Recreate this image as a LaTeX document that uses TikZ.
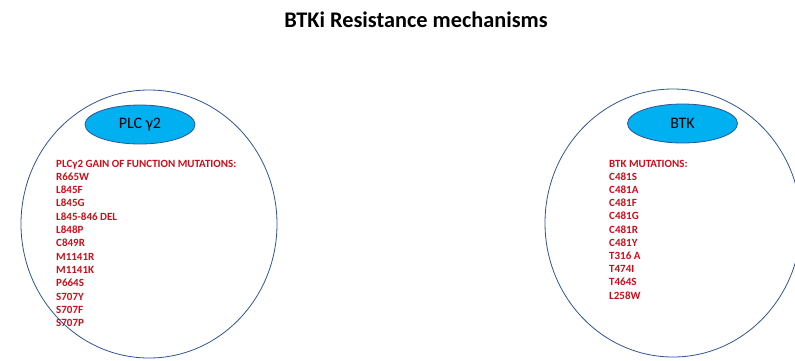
\documentclass[tikz,border=0pt]{standalone}
\usepackage{fontspec}
\setmainfont{Carlito}
\usetikzlibrary{shapes.geometric}
\definecolor{ringblue}{RGB}{47,85,151}
\definecolor{capfill}{RGB}{0,176,240}
\definecolor{mutred}{RGB}{200,16,26}
\tikzset{
  ring/.style={draw=ringblue, line width=0.8pt, ellipse, minimum width=256pt, minimum height=268pt, inner sep=0pt},
  capsule/.style={draw=ringblue, line width=0.8pt, fill=capfill, ellipse, minimum width=110pt, minimum height=39pt, inner sep=0pt, font=\fontsize{16}{18}\selectfont},
  mut/.style={anchor=base west, inner sep=0pt, text=mutred, font=\fontsize{11}{12}\selectfont\bfseries}
}
\begin{document}
\begin{tikzpicture}[x=1pt,y=-1pt]
\useasboundingbox (0,0) rectangle (795,360);
\clip (0,0) rectangle (795,360);
\node (title) at (416,20) {\fontsize{22.3}{26}\selectfont\bfseries BTKi Resistance mechanisms};
\node[ring] (leftring) at (149,224) {};
\node[ring] (rightring) at (673,223) {};
\node[capsule] (plc) at (140,124.5) {PLC γ2};
\node[capsule] (btk) at (682.5,123.5) {BTK};
\foreach \t [count=\i from 0] in {PLCγ2 GAIN OF FUNCTION MUTATIONS:,R665W,L845F,L845G,L845-846 DEL,L848P,C849R,M1141R,M1141K,P664S,S707Y,S707F,S707P}
  \node[mut] (pl\i) at (56,167+13.33*\i) {\t};
\foreach \t [count=\i from 0] in {BTK MUTATIONS:,C481S,C481A,C481F,C481G,C481R,C481Y,T316 A,T474I,T464S,L258W}
  \node[mut] (bk\i) at (609,167+13.2*\i) {\t};
\end{tikzpicture}
\end{document}
